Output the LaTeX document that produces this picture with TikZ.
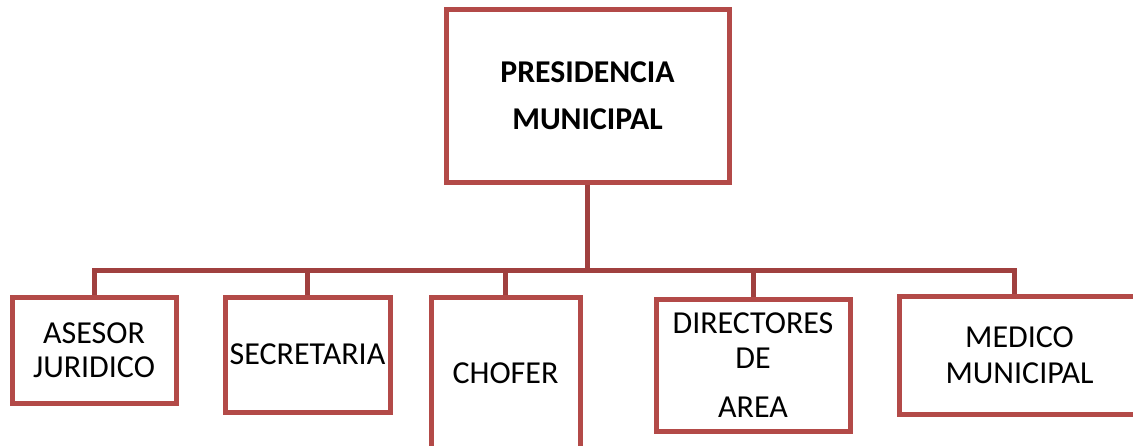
\documentclass[tikz,border=0pt]{standalone}
\usepackage{fontspec}
\setmainfont{Carlito}
\definecolor{boxred}{HTML}{B34A48}
\definecolor{linered}{HTML}{A0403F}
\tikzset{
  cargo/.style={draw=boxred, line width=3.75pt, fill=white, align=center, inner sep=0pt,
    font=\fontsize{24}{26}\selectfont},
  enlace/.style={draw=linered, line width=3.75pt}
}
\begin{document}
\begin{tikzpicture}[x=0.75pt, y=-0.75pt]
    \useasboundingbox (0,0) rectangle (1133,446);
    \clip (0,0) rectangle (1133,446);

    \node[cargo, minimum width=283*0.75pt, minimum height=173*0.75pt,
      font=\fontsize{23.8}{35}\selectfont\bfseries] (pres) at (587.5,95.5) {PRESIDENCIA\\MUNICIPAL};
    \node[cargo, minimum width=164*0.75pt, minimum height=106*0.75pt,
      font=\fontsize{24}{25.5}\selectfont] (asesor) at (94,350) {ASESOR\\JURIDICO};
    \node[cargo, minimum width=165*0.75pt, minimum height=115*0.75pt] (secretaria) at (307.5,354.5) {SECRETARIA};
    \node[cargo, minimum width=149*0.75pt, minimum height=153*0.75pt] (chofer) at (505.5,373.5) {CHOFER};
    \node[cargo, minimum width=194*0.75pt, minimum height=132*0.75pt] (directores) at (753,365) {DIRECTORES\\DE\\[11pt]AREA};
    \node[cargo, minimum width=241*0.75pt, minimum height=118*0.75pt,
      font=\fontsize{24}{27}\selectfont] (medico) at (1019.5,355) {MEDICO\\MUNICIPAL};

    % bus bar under the presidency
    \coordinate (bus) at (587.5,270);
    \draw[enlace] (pres.south) -- (bus);
    \foreach \c in {asesor, secretaria, chofer, directores}
        \draw[enlace] (\c.north) |- (bus);
    \draw[enlace] ([xshift=-3.4pt]medico.north) |- (bus);

\end{tikzpicture}
\end{document}
